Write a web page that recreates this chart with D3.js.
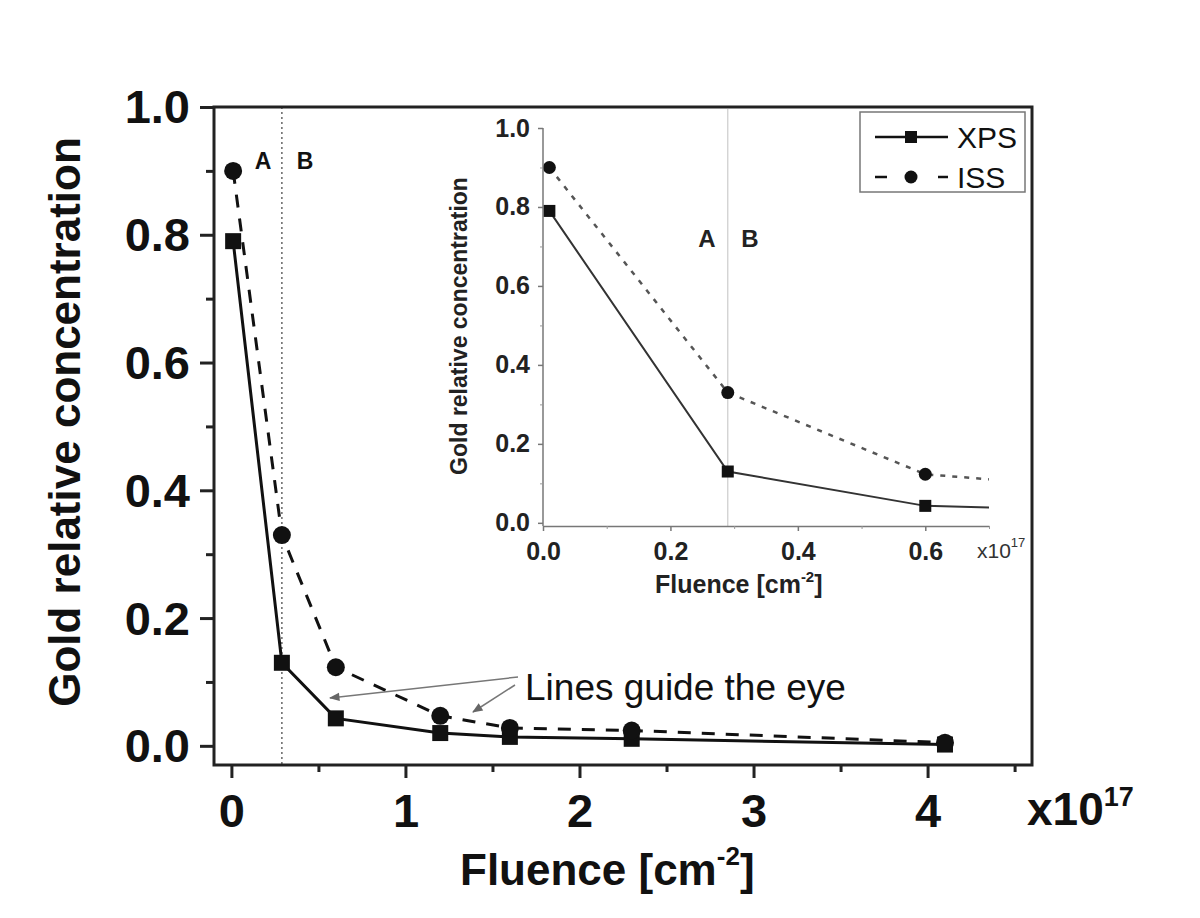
<!DOCTYPE html>
<html>
<head>
<meta charset="utf-8">
<script src="https://cdn.jsdelivr.net/npm/d3@7"></script>
<style>
  body { margin: 0; background: #fff; }
  svg { display: block; font-family: "Liberation Sans", Arial, sans-serif; }
</style>
</head>
<body>
<svg id="chart" width="1200" height="918"></svg>
<script>
// Gold relative concentration vs fluence, XPS and ISS, with a zoomed inset.
const fluence = [0.01, 0.29, 0.6, 1.2, 1.6, 2.3, 4.1];   // x10^17 cm^-2
const xps = [0.79, 0.13, 0.043, 0.02, 0.014, 0.011, 0.002];
const iss = [0.9, 0.33, 0.123, 0.047, 0.028, 0.024, 0.005];
const boundary = 0.29;                                      // A | B

const mainXTicks = [0, 1, 2, 3, 4];
const mainXMinor = [0.5, 1.5, 2.5, 3.5, 4.5];
const mainYTicks = [0, 0.2, 0.4, 0.6, 0.8, 1.0];
const mainYMinor = [0.1, 0.3, 0.5, 0.7, 0.9];
const insetXTicks = [0, 0.2, 0.4, 0.6];
const insetXMinor = [0.1, 0.3, 0.5, 0.7];
const insetYTicks = [0, 0.2, 0.4, 0.6, 0.8, 1.0];
const insetYMinor = [0.1, 0.3, 0.5, 0.7, 0.9];

const svg = d3.select('#chart');
const ink = '#111';

/* ---------------- main plot ---------------- */

const x = d3.scaleLinear().domain([-0.1, 4.6]).range([214, 1032]);
const y = d3.scaleLinear().domain([-0.03, 1.0]).range([765, 107]);

const pts = (vals) => fluence.map((f, i) => [f, vals[i]]);

// A|B boundary, dotted
svg.append('line')
  .attr('x1', x(boundary)).attr('x2', x(boundary))
  .attr('y1', y.range()[1]).attr('y2', y.range()[0])
  .attr('stroke', '#666').attr('stroke-width', 1.5).attr('stroke-dasharray', '2,3');

const line = d3.line().x(d => x(d[0])).y(d => y(d[1]));
svg.append('path').attr('d', line(pts(xps)))
  .attr('fill', 'none').attr('stroke', ink).attr('stroke-width', 3);
svg.append('path').attr('d', line(pts(iss)))
  .attr('fill', 'none').attr('stroke', ink).attr('stroke-width', 3).attr('stroke-dasharray', '13,11');

svg.append('g').selectAll('rect').data(pts(xps)).join('rect')
  .attr('x', d => x(d[0]) - 8).attr('y', d => y(d[1]) - 8)
  .attr('width', 16).attr('height', 16).attr('fill', ink);
svg.append('g').selectAll('circle').data(pts(iss)).join('circle')
  .attr('cx', d => x(d[0])).attr('cy', d => y(d[1])).attr('r', 9).attr('fill', ink);

// frame
svg.append('rect')
  .attr('x', x.range()[0]).attr('y', y.range()[1])
  .attr('width', x.range()[1] - x.range()[0]).attr('height', y.range()[0] - y.range()[1])
  .attr('fill', 'none').attr('stroke', '#222').attr('stroke-width', 3);

function styleAxis(g, width) {
  g.select('.domain').remove();
  g.selectAll('line').attr('stroke', '#222').attr('stroke-width', width);
}

const gy = svg.append('g').attr('transform', `translate(${x.range()[0]},0)`)
  .call(d3.axisLeft(y).tickValues(mainYTicks).tickSize(14).tickSizeOuter(0).tickFormat(d3.format('.1f')));
styleAxis(gy, 3);
gy.selectAll('text').attr('x', -24).attr('dy', '0.34em')
  .attr('font-size', 47).attr('font-weight', 'bold').attr('fill', ink).attr('font-family', null);
svg.append('g').attr('transform', `translate(${x.range()[0]},0)`)
  .call(d3.axisLeft(y).tickValues(mainYMinor).tickSize(8).tickFormat(''))
  .call(g => styleAxis(g, 3));

const gx = svg.append('g').attr('transform', `translate(0,${y.range()[0]})`)
  .call(d3.axisBottom(x).tickValues(mainXTicks).tickSize(13).tickSizeOuter(0).tickFormat(d3.format('d')));
styleAxis(gx, 3);
gx.selectAll('text').attr('y', 62).attr('dy', null)
  .attr('font-size', 47).attr('font-weight', 'bold').attr('fill', ink).attr('font-family', null);
svg.append('g').attr('transform', `translate(0,${y.range()[0]})`)
  .call(d3.axisBottom(x).tickValues(mainXMinor).tickSize(7).tickFormat(''))
  .call(g => styleAxis(g, 3));

// x10^17 multiplier
const mult = svg.append('text').attr('x', 1027).attr('y', 825)
  .attr('font-size', 46).attr('font-weight', 'bold').attr('fill', ink);
mult.append('tspan').text('x10');
mult.append('tspan').attr('font-size', 27).attr('dy', -19).text('17');

// axis titles
const xt = svg.append('text').attr('x', 460).attr('y', 885)
  .attr('font-size', 44).attr('font-weight', 'bold').attr('fill', ink);
xt.append('tspan').text('Fluence [cm');
xt.append('tspan').attr('font-size', 26).attr('dy', -20).text('-2');
xt.append('tspan').attr('dy', 20).text(']');

svg.append('text')
  .attr('transform', 'translate(80,422) rotate(-90)')
  .attr('text-anchor', 'middle').attr('font-size', 44).attr('font-weight', 'bold').attr('fill', ink)
  .text('Gold relative concentration');

// region labels
svg.append('text').attr('x', 263).attr('y', 169).attr('text-anchor', 'middle')
  .attr('font-size', 23).attr('font-weight', 'bold').attr('fill', ink).text('A');
svg.append('text').attr('x', 305).attr('y', 169).attr('text-anchor', 'middle')
  .attr('font-size', 23).attr('font-weight', 'bold').attr('fill', ink).text('B');

// annotation with arrows
svg.append('defs').append('marker')
  .attr('id', 'arrow').attr('viewBox', '0 0 10 10').attr('refX', 9).attr('refY', 5)
  .attr('markerWidth', 9).attr('markerHeight', 7).attr('orient', 'auto')
  .append('path').attr('d', 'M0,1 L10,5 L0,9 Z').attr('fill', '#666');
svg.append('line').attr('x1', 518).attr('y1', 677).attr('x2', 330).attr('y2', 698)
  .attr('stroke', '#777').attr('stroke-width', 1.5).attr('marker-end', 'url(#arrow)');
svg.append('line').attr('x1', 515).attr('y1', 685).attr('x2', 473).attr('y2', 712)
  .attr('stroke', '#777').attr('stroke-width', 1.5).attr('marker-end', 'url(#arrow)');
svg.append('text').attr('x', 525).attr('y', 700)
  .attr('font-size', 37).attr('fill', ink).text('Lines guide the eye');

/* ---------------- inset ---------------- */

const xi = d3.scaleLinear().domain([0, 0.7]).range([543, 989]);
const yi = d3.scaleLinear().domain([-0.008, 1.0]).range([526, 128]);

svg.append('line')
  .attr('x1', xi(boundary)).attr('x2', xi(boundary))
  .attr('y1', y.range()[1] + 2).attr('y2', yi.range()[0])
  .attr('stroke', '#ccc').attr('stroke-width', 1.2);

svg.append('clipPath').attr('id', 'inset-clip').append('rect')
  .attr('x', xi.range()[0]).attr('y', yi.range()[1] - 10)
  .attr('width', xi.range()[1] - xi.range()[0]).attr('height', yi.range()[0] - yi.range()[1] + 10);

const lineI = d3.line().x(d => xi(d[0])).y(d => yi(d[1]));
const ins = svg.append('g').attr('clip-path', 'url(#inset-clip)');
ins.append('path').attr('d', lineI(pts(xps)))
  .attr('fill', 'none').attr('stroke', '#333').attr('stroke-width', 2);
ins.append('path').attr('d', lineI(pts(iss)))
  .attr('fill', 'none').attr('stroke', '#555').attr('stroke-width', 2.5).attr('stroke-dasharray', '5,7');

const insPts = (vals) => pts(vals).filter(d => d[0] <= 0.7);
svg.append('g').selectAll('rect').data(insPts(xps)).join('rect')
  .attr('x', d => xi(d[0]) - 6).attr('y', d => yi(d[1]) - 6)
  .attr('width', 12).attr('height', 12).attr('fill', ink);
svg.append('g').selectAll('circle').data(insPts(iss)).join('circle')
  .attr('cx', d => xi(d[0])).attr('cy', d => yi(d[1])).attr('r', 6.5).attr('fill', ink);

function styleInset(g) {
  g.select('.domain').attr('stroke', '#777').attr('stroke-width', 1.5);
  g.selectAll('line').attr('stroke', '#777').attr('stroke-width', 1.5);
}

const giy = svg.append('g').attr('transform', `translate(${xi.range()[0]},0)`)
  .call(d3.axisLeft(yi).tickValues(insetYTicks).tickSize(5).tickSizeOuter(0).tickFormat(d3.format('.1f')));
styleInset(giy);
giy.select('.domain').attr('d', `M0,${yi(1)}V${yi.range()[0]}`);
giy.selectAll('text').attr('x', -13).attr('dy', '0.32em')
  .attr('font-size', 25).attr('font-weight', 'bold').attr('fill', '#222').attr('font-family', null);
svg.append('g').attr('transform', `translate(${xi.range()[0]},0)`)
  .call(d3.axisLeft(yi).tickValues(insetYMinor).tickSize(3).tickFormat(''))
  .call(g => { g.select('.domain').remove(); g.selectAll('line').attr('stroke', '#999'); });

const gix = svg.append('g').attr('transform', `translate(0,${yi.range()[0]})`)
  .call(d3.axisBottom(xi).tickValues(insetXTicks).tickSize(5).tickSizeOuter(0).tickFormat(d3.format('.1f')));
styleInset(gix);
gix.selectAll('text').attr('y', 34).attr('dy', null)
  .attr('font-size', 25).attr('font-weight', 'bold').attr('fill', '#222').attr('font-family', null);
svg.append('g').attr('transform', `translate(0,${yi.range()[0]})`)
  .call(d3.axisBottom(xi).tickValues(insetXMinor).tickSize(3).tickFormat(''))
  .call(g => { g.select('.domain').remove(); g.selectAll('line').attr('stroke', '#999'); });

const imult = svg.append('text').attr('x', 977).attr('y', 558)
  .attr('font-size', 21).attr('fill', '#333');
imult.append('tspan').text('x10');
imult.append('tspan').attr('font-size', 13).attr('dy', -11).text('17');

const ixt = svg.append('text').attr('x', 655).attr('y', 593)
  .attr('font-size', 25).attr('font-weight', 'bold').attr('fill', '#222');
ixt.append('tspan').text('Fluence [cm');
ixt.append('tspan').attr('font-size', 15).attr('dy', -11).text('-2');
ixt.append('tspan').attr('dy', 11).text(']');

svg.append('text')
  .attr('transform', 'translate(467,326) rotate(-90)')
  .attr('text-anchor', 'middle').attr('font-size', 23).attr('font-weight', 'bold').attr('fill', '#222')
  .text('Gold relative concentration');

svg.append('text').attr('x', 707).attr('y', 247).attr('text-anchor', 'middle')
  .attr('font-size', 24).attr('font-weight', 'bold').attr('fill', '#222').text('A');
svg.append('text').attr('x', 750).attr('y', 247).attr('text-anchor', 'middle')
  .attr('font-size', 24).attr('font-weight', 'bold').attr('fill', '#222').text('B');

/* ---------------- legend ---------------- */

const legend = svg.append('g');
legend.append('rect').attr('x', 860).attr('y', 112).attr('width', 165).attr('height', 80)
  .attr('fill', '#fff').attr('stroke', '#777').attr('stroke-width', 1.5);
legend.append('line').attr('x1', 875).attr('x2', 948).attr('y1', 137).attr('y2', 137)
  .attr('stroke', ink).attr('stroke-width', 2.5);
legend.append('rect').attr('x', 905).attr('y', 131).attr('width', 12).attr('height', 12).attr('fill', ink);
legend.append('line').attr('x1', 875).attr('x2', 948).attr('y1', 177).attr('y2', 177)
  .attr('stroke', ink).attr('stroke-width', 2.5).attr('stroke-dasharray', '12,51');
legend.append('circle').attr('cx', 911).attr('cy', 177).attr('r', 6.5).attr('fill', ink);
legend.append('text').attr('x', 957).attr('y', 148).attr('font-size', 30).attr('fill', ink).text('XPS');
legend.append('text').attr('x', 957).attr('y', 188).attr('font-size', 30).attr('fill', ink).text('ISS');
</script>
</body>
</html>
